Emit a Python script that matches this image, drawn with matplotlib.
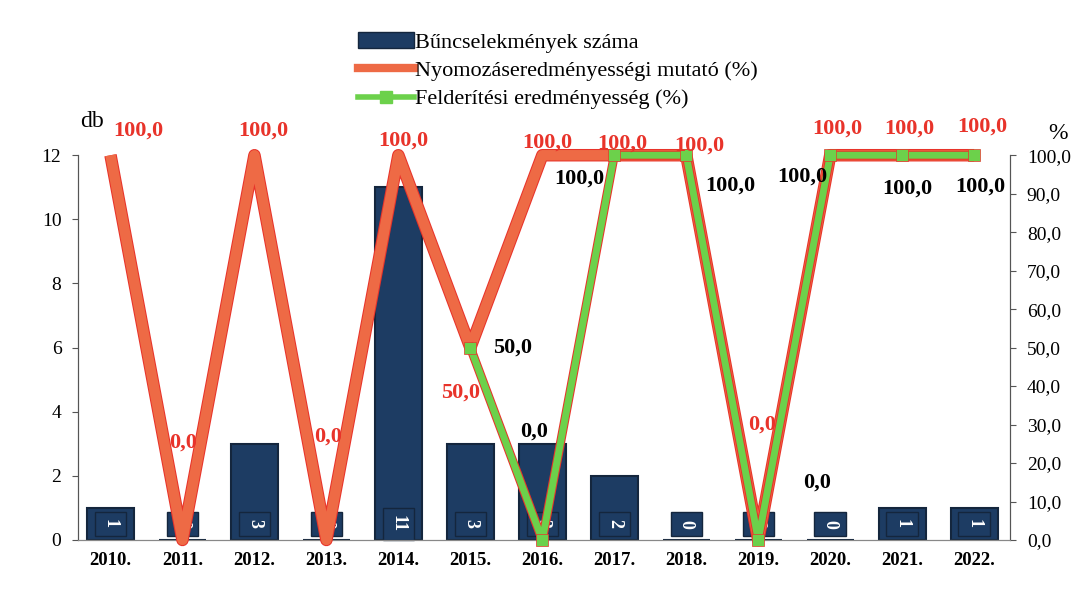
import numpy as np
import matplotlib.pyplot as plt
import matplotlib.patheffects as pe
from matplotlib.patches import Patch
from matplotlib.lines import Line2D

# -------------------------------------------------
# Data
# -------------------------------------------------

years = ["2010.", "2011.", "2012.", "2013.", "2014.", "2015.", "2016.",
         "2017.", "2018.", "2019.", "2020.", "2021.", "2022."]

crimes = [1, 0, 3, 0, 11, 3, 3, 2, 0, 0, 0, 1, 1]

investigation = [100, 0, 100, 0, 100, 50, 100, 100, 100, 0, 100, 100, 100]

detection = [np.nan, np.nan, np.nan, np.nan, np.nan,
             50, 0, 100, 100, 0, 100, 100, 100]

# label offsets in pixels (dx, dy)
red_offsets = [(28, 25), (1, 97), (9, 25), (2, 103), (5, 15), (-10, -45),
               (5, 13), (8, 12), (13, 10), (4, 115), (7, 27), (7, 27), (8, 29)]

black_offsets = [None, None, None, None, None, (42, 0), (-8, 108),
                 (-35, -23), (44, -30), (59, 57), (-28, -21), (5, -33), (6, -31)]

# -------------------------------------------------
# Styles
# -------------------------------------------------

navy = "#1d3c63"
orange = "#ee6a45"
red = "#e8332a"
green = "#6cd14b"

plt.rcParams["font.family"] = "Liberation Serif"

x = np.arange(len(years))

fig = plt.figure(figsize=(10.85, 6.04), dpi=100)
ax = fig.add_axes([0.072, 0.106, 0.859, 0.637])
ax2 = ax.twinx()

# -------------------------------------------------
# Bars
# -------------------------------------------------

ax.bar(x, crimes, width=0.65, color=navy, edgecolor="#14263d",
       linewidth=1.5, zorder=2)

for xi, v in zip(x, crimes):
    ax.text(xi, 0.5, str(v), rotation=-90, ha="center", va="center",
            color="white", fontsize=13, fontweight="bold", zorder=3,
            bbox=dict(boxstyle="square,pad=0.4", fc=navy, ec="#14263d"))

ax.set_ylim(0, 12)
ax.set_yticks(range(0, 13, 2))
ax.set_xlim(-0.45, 12.5)
ax.set_xticks(x)
ax.set_xticklabels(years, fontsize=13.5, fontweight="bold")
ax.tick_params(axis="y", labelsize=14, length=4, color="#555555", pad=8)
ax.tick_params(axis="x", length=0, pad=9)

# -------------------------------------------------
# Lines
# -------------------------------------------------

ax2.plot(x, investigation, color=orange, linewidth=7.5, zorder=4,
         solid_joinstyle="round", solid_capstyle="butt", clip_on=False,
         path_effects=[pe.Stroke(linewidth=9, foreground=red), pe.Normal()])

ax2.plot(x, detection, color=green, linewidth=5,
         solid_joinstyle="round", zorder=5, clip_on=False,
         path_effects=[pe.Stroke(linewidth=6.5, foreground=red), pe.Normal()])

ax2.plot(x, detection, linestyle="none", marker="s", markersize=8,
         markerfacecolor=green, markeredgecolor=red, markeredgewidth=0.5,
         zorder=5.5, clip_on=False)

ax2.set_ylim(0, 100)
ax2.set_yticks(range(0, 101, 10))
ax2.set_yticklabels([f"{v},0" for v in range(0, 101, 10)])
ax2.tick_params(axis="y", labelsize=14, length=4, color="#555555", pad=8)

for xi, v, off in zip(x, investigation, red_offsets):
    ax2.annotate(f"{v:.1f}".replace(".", ","), (xi, v),
                 xytext=off, textcoords="offset pixels",
                 ha="center", va="center", color=red,
                 fontsize=16, fontweight="bold", zorder=6)

for xi, v, off in zip(x, detection, black_offsets):
    if off is None:
        continue
    ax2.annotate(f"{v:.1f}".replace(".", ","), (xi, v),
                 xytext=off, textcoords="offset pixels",
                 ha="center", va="center", color="black",
                 fontsize=16, fontweight="bold", zorder=6)

# -------------------------------------------------
# Spines and axis titles
# -------------------------------------------------

for a in (ax, ax2):
    a.spines["top"].set_visible(False)
    a.spines["bottom"].set_color("#888888")
    a.spines["left"].set_color("#555555")
    a.spines["right"].set_color("#555555")

fig.text(0.085, 0.79, "db", fontsize=17, ha="center")
fig.text(0.975, 0.77, "%", fontsize=17, ha="center")

# -------------------------------------------------
# Legend
# -------------------------------------------------

handles = [
    Patch(facecolor=navy, edgecolor="#14263d"),
    Line2D([], [], color=orange, linewidth=6),
    Line2D([], [], color=green, linewidth=4, marker="s", markersize=8),
]
labels = ["Bűncselekmények száma",
          "Nyomozáseredményességi mutató (%)",
          "Felderítési eredményesség (%)"]

fig.legend(handles, labels, loc="upper left",
           bbox_to_anchor=(0.32, 0.965), frameon=False,
           fontsize=16, handlelength=2.5, handletextpad=0.05,
           labelspacing=0.35, borderpad=0)

fig.savefig("out.png", dpi=100)
